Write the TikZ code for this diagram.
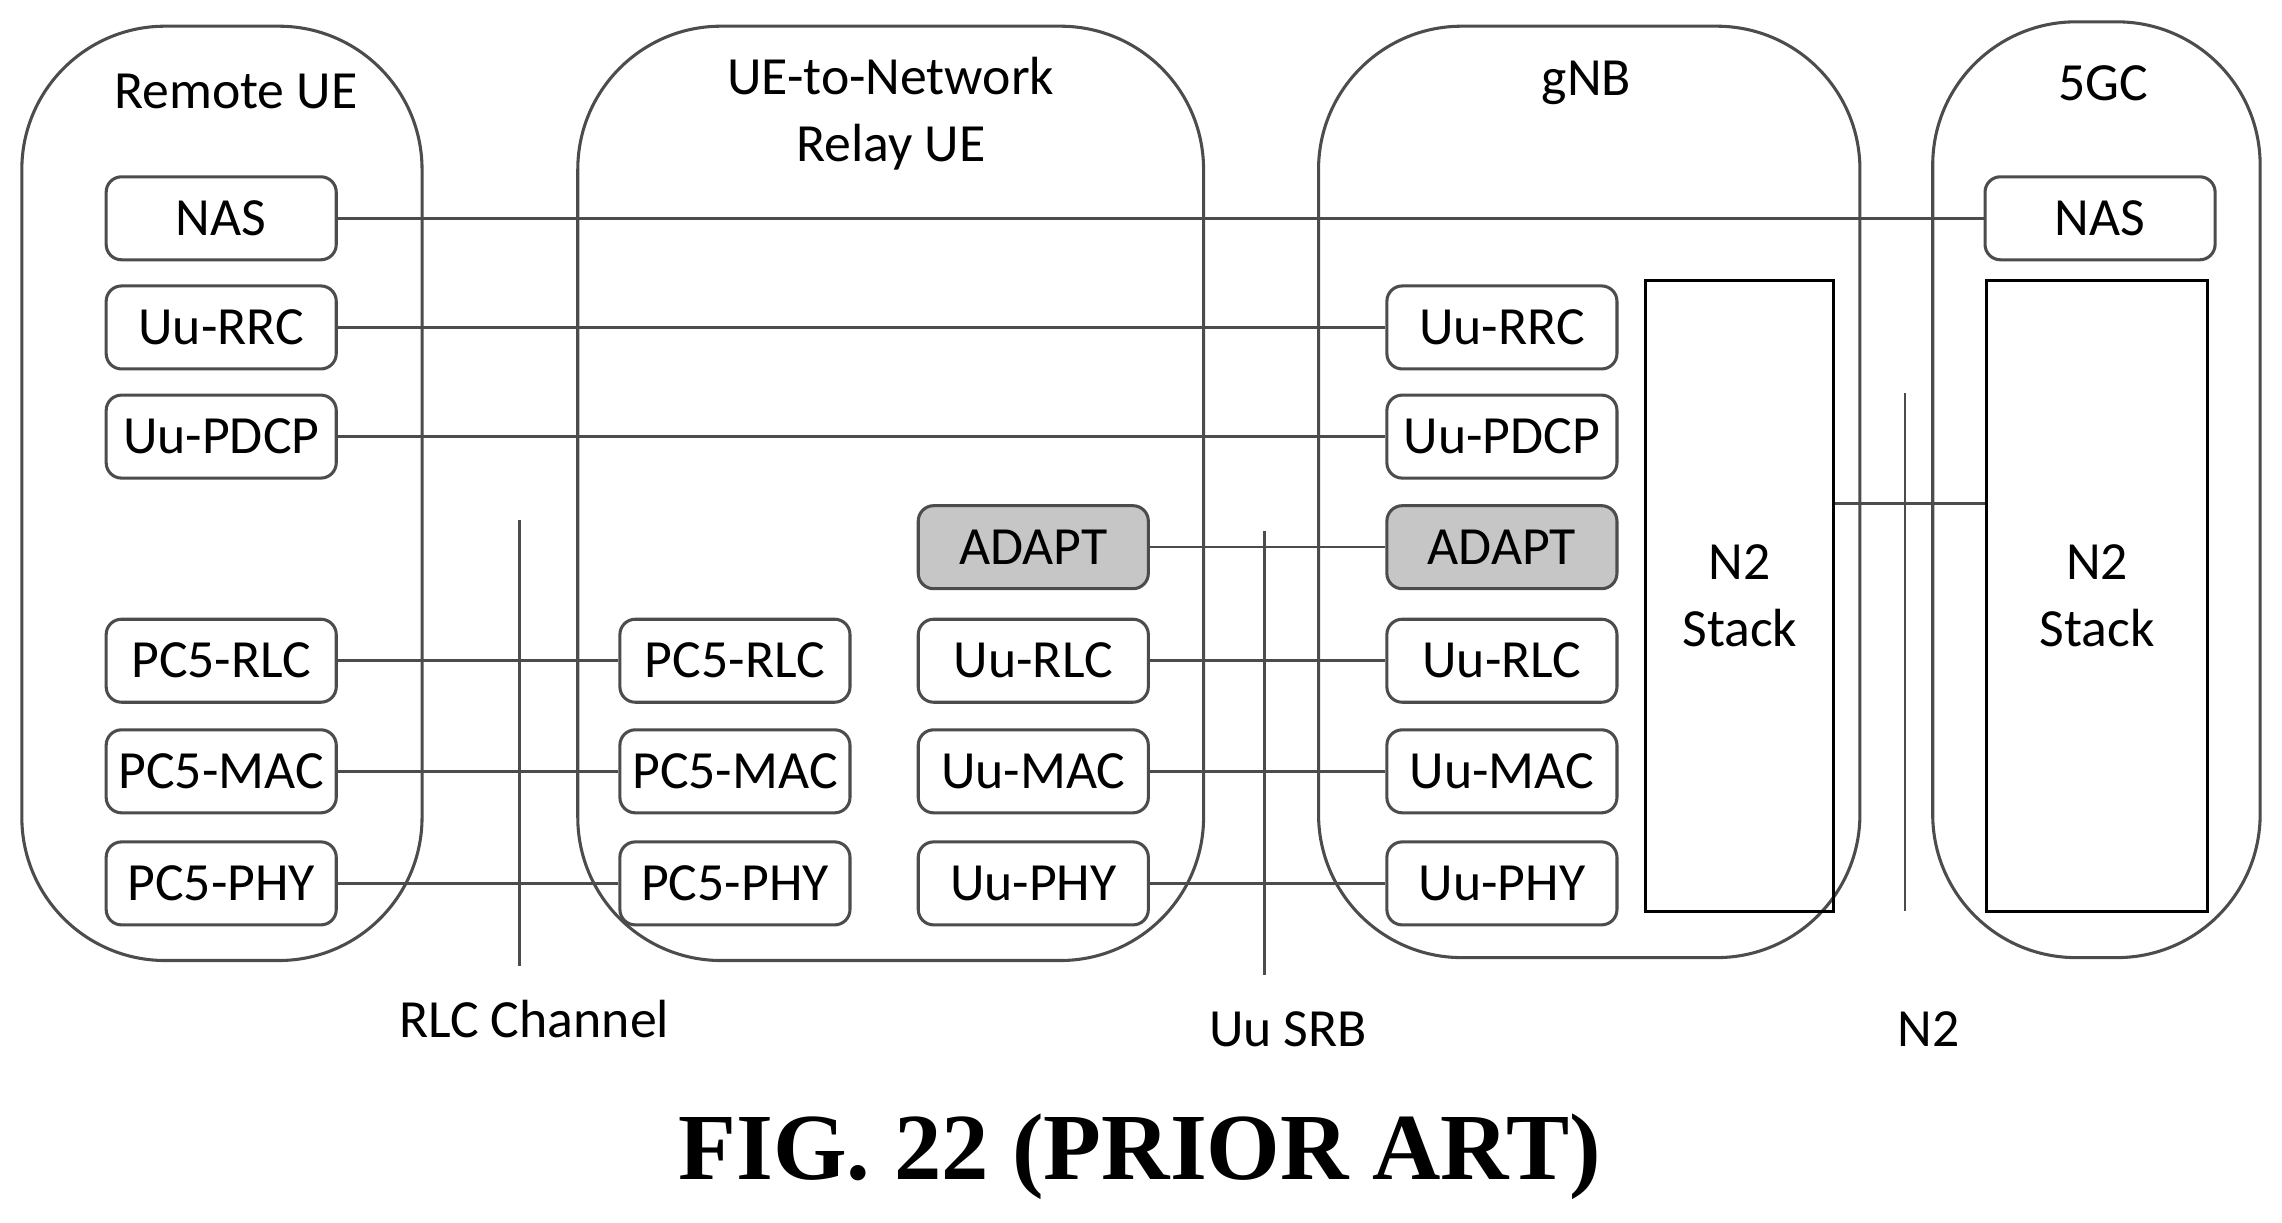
\documentclass[tikz,border=0pt]{standalone}
\usepackage{fontspec}
\setmainfont{Carlito}
\newfontfamily\capfont{Liberation Serif}
\usetikzlibrary{positioning}
\tikzstyle{entity} = [draw=black!70, rounded corners=28pt, line width=0.6pt]
\tikzstyle{layer} = [rectangle, draw=black!70, rounded corners=3pt, line width=0.6pt, minimum width=1.58cm, minimum height=0.57cm, font=\fontsize{10.5}{12}\selectfont, inner sep=0pt]
\tikzstyle{adapt} = [layer, fill=gray!45]
\tikzstyle{stack} = [rectangle, draw=black, line width=0.6pt, font=\fontsize{10.5}{13}\selectfont, align=center]
\tikzstyle{link} = [black!70, line width=0.5pt]
\tikzstyle{title} = [font=\fontsize{10.5}{13}\selectfont, align=center]

\begin{document}
\begin{tikzpicture}[x=0.01cm, y=-0.01cm]
    \useasboundingbox (0,0) rectangle (1568,840);
    % entities
    \draw [entity] (15,18) rectangle (290,660);
    \draw [entity] (397,18) rectangle (827,660);
    \draw [entity] (906,18) rectangle (1278,658);
    \draw [entity] (1328,15) rectangle (1553,658);
    \node [title] (tremote) at (162,63) {Remote UE};
    \node [title] (trelay) at (612,78) {UE-to-Network\\Relay UE};
    \node [title] (tgnb) at (1090,57) {gNB};
    \node [title] (tcore) at (1445,57) {5GC};

    % remote UE
    \node (rnas) [layer] at (152,150) {NAS};
    \node (rrrc) [layer] at (152,225) {Uu-RRC};
    \node (rpdcp) [layer] at (152,300) {Uu-PDCP};
    \node (rrlc) [layer] at (152,454) {PC5-RLC};
    \node (rmac) [layer] at (152,530) {PC5-MAC};
    \node (rphy) [layer] at (152,607) {PC5-PHY};

    % relay UE
    \node (lrlc) [layer] at (505,454) {PC5-RLC};
    \node (lmac) [layer] at (505,530) {PC5-MAC};
    \node (lphy) [layer] at (505,607) {PC5-PHY};
    \node (ladapt) [adapt] at (710,376) {ADAPT};
    \node (lurlc) [layer] at (710,454) {Uu-RLC};
    \node (lumac) [layer] at (710,530) {Uu-MAC};
    \node (luphy) [layer] at (710,607) {Uu-PHY};

    % gNB
    \node (grrc) [layer] at (1032,225) {Uu-RRC};
    \node (gpdcp) [layer] at (1032,300) {Uu-PDCP};
    \node (gadapt) [adapt] at (1032,376) {ADAPT};
    \node (grlc) [layer] at (1032,454) {Uu-RLC};
    \node (gmac) [layer] at (1032,530) {Uu-MAC};
    \node (gphy) [layer] at (1032,607) {Uu-PHY};
    \node (gn2) [stack, minimum width=1.29cm, minimum height=4.33cm] at (1195.5,409.5) {N2\\Stack};

    % 5GC
    \node (cnas) [layer] at (1443,150) {NAS};
    \node (cn2) [stack, minimum width=1.52cm, minimum height=4.33cm] at (1441,409.5) {N2\\Stack};

    % peer links
    \draw [link] (rnas) -- (cnas);
    \draw [link] (rrrc) -- (grrc);
    \draw [link] (rpdcp) -- (gpdcp);
    \draw [link] (rrlc) -- (lrlc);
    \draw [link] (rmac) -- (lmac);
    \draw [link] (rphy) -- (lphy);
    \draw [link] (ladapt) -- (gadapt);
    \draw [link] (lurlc) -- (grlc);
    \draw [link] (lumac) -- (gmac);
    \draw [link] (luphy) -- (gphy);
    \draw [link] (gn2.east |- 0,346) -- (cn2.west |- 0,346);

    % interfaces
    \coordinate (ia) at (357,357);
    \coordinate (ib) at (357,664);
    \coordinate (ic) at (869,365);
    \coordinate (id) at (869,670);
    \coordinate (ie) at (1309,270);
    \coordinate (if) at (1309,626);
    \draw [link] (ia) -- (ib);
    \draw [link] (ic) -- (id);
    \draw [link] (ie) -- (if);
    \node [title] (lrlcch) at (367,700) {RLC Channel};
    \node [title] (lsrb) at (885,707) {Uu SRB};
    \node [title] (ln2) at (1325,707) {N2};

    \node (caption) at (783,795) {\capfont\bfseries\fontsize{18.5}{22}\selectfont FIG. 22 (PRIOR ART)};
\end{tikzpicture}
\end{document}
